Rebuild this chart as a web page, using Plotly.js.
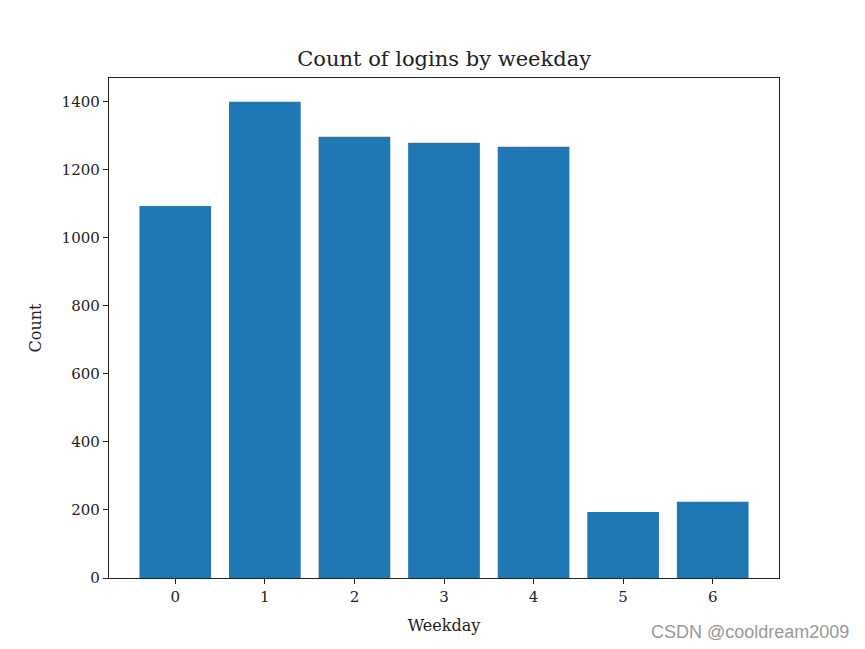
<!DOCTYPE html>
<html><head><meta charset="utf-8">
<script src="https://cdn.plot.ly/plotly-3.0.1.min.js"></script>
<style>html,body{margin:0;padding:0;background:#fff}#chart{width:865px;height:649px}</style>
</head><body><div id="chart"></div>
<script>
var weekdays = [0, 1, 2, 3, 4, 5, 6];
var counts = [1094, 1400, 1297, 1280, 1268, 194, 224];
var yTicks = [0, 200, 400, 600, 800, 1000, 1200, 1400];

var font = "DejaVu Serif, Liberation Serif, serif";
var trace = {
  type: 'bar', x: weekdays, y: counts, width: 0.8,
  marker: {color: '#1f77b4', line: {width: 0}}
};
var layout = {
  width: 865, height: 649,
  margin: {l: 109, r: 86, t: 78, b: 71, pad: 0},
  paper_bgcolor: '#fff', plot_bgcolor: '#fff',
  font: {family: font, color: '#222', size: 13},
  title: {text: 'Count of logins by weekday', font: {family: font, size: 21, color: '#222'}, x: 0.5135, xanchor: 'center', y: 0.91, yanchor: 'middle'},
  xaxis: {
    range: [-0.74, 6.74], tickvals: weekdays, ticktext: weekdays.map(String),
    showgrid: false, zeroline: false, showline: true, linecolor: '#222', linewidth: 1.2, mirror: true,
    ticks: 'outside', ticklen: 5, tickcolor: '#222', tickfont: {size: 15, family: font},
    title: {text: 'Weekday', font: {size: 16, family: font}, standoff: 14}
  },
  yaxis: {
    range: [0, 1470], tickvals: yTicks, ticktext: yTicks.map(String),
    showgrid: false, zeroline: false, showline: true, linecolor: '#222', linewidth: 1.2, mirror: true,
    ticks: 'outside', ticklen: 5, tickcolor: '#222', tickfont: {size: 15, family: font},
    title: {text: 'Count', font: {size: 16, family: font}, standoff: 16}
  },
  annotations: [{
    text: 'CSDN @cooldream2009', xref: 'paper', yref: 'paper', x: 1.107, y: -0.108,
    xanchor: 'right', yanchor: 'middle', showarrow: false,
    font: {family: 'Liberation Sans, Arial, sans-serif', size: 18, color: '#999'}
  }],
  showlegend: false
};
Plotly.newPlot('chart', [trace], layout, {displayModeBar: false, staticPlot: true});
</script></body></html>
